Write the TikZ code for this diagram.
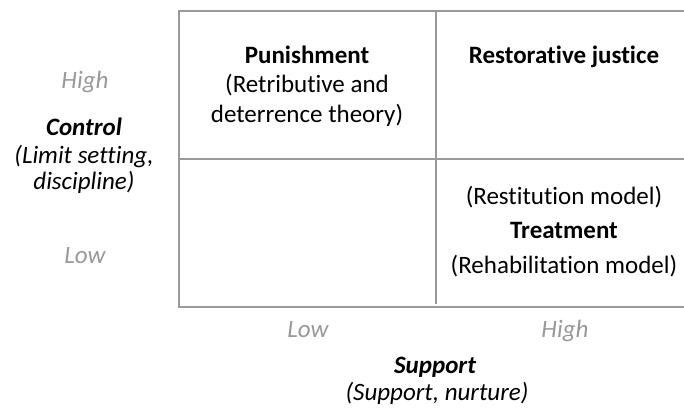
\documentclass[tikz,border=0pt]{standalone}
\usepackage{fontspec}
\setmainfont{Carlito}[RawFeature={-liga,-clig}]
\definecolor{gridgray}{HTML}{9A9A9A}
\definecolor{lablgray}{HTML}{999999}
\tikzset{
  gridline/.style={draw=gridgray, line width=2.6pt},
  txt/.style={anchor=base, inner sep=0pt, font=\fontsize{25}{30}\selectfont, text=black},
  txtb/.style={txt, font=\fontsize{25}{30}\selectfont\bfseries},
  axis/.style={txt, font=\fontsize{25}{30}\selectfont\itshape, text=lablgray},
  axisb/.style={txt, font=\fontsize{25}{30}\selectfont\bfseries\itshape},
  axisi/.style={txt, font=\fontsize{25}{30}\selectfont\itshape},
}
\begin{document}
\begin{tikzpicture}[x=1pt,y=-1pt]
\useasboundingbox (0,0) rectangle (684,408);
% grid
\draw[gridline, line join=miter] (684,11) -- (179,11) -- (179,307) -- (684,307);
\draw[gridline] (179,159) -- (684,159);
\draw[gridline] (436,11) -- (436,304);
% quadrant texts
\node[txtb] (pun) at (307,63) {Punishment};
\node[txt] (pun2) at (307,92) {(Retributive and};
\node[txt] (pun3) at (307,122) {deterrence theory)};
\node[txtb] (rj) at (564,63) {Restorative justice};
\node[txt] (rest) at (564,204) {(Restitution model)};
\node[txtb] (treat) at (564,238) {Treatment};
\node[txt] (rehab) at (564,273) {(Rehabilitation model)};
% control axis
\node[axis] (chigh) at (85,88) {High};
\node[axisb] (ctrl) at (84,135) {Control};
\node[axisi] (ctrl2) at (84,163) {(Limit setting,};
\node[axisi] (ctrl3) at (84,189) {discipline)};
\node[axis] (clow) at (85,263) {Low};
% support axis
\node[axis] (slow) at (308,337) {Low};
\node[axis] (shigh) at (565,337) {High};
\node[axisb] (sup) at (435,373) {Support};
\node[axisi] (sup2) at (437,400) {(Support, nurture)};
\end{tikzpicture}
\end{document}
